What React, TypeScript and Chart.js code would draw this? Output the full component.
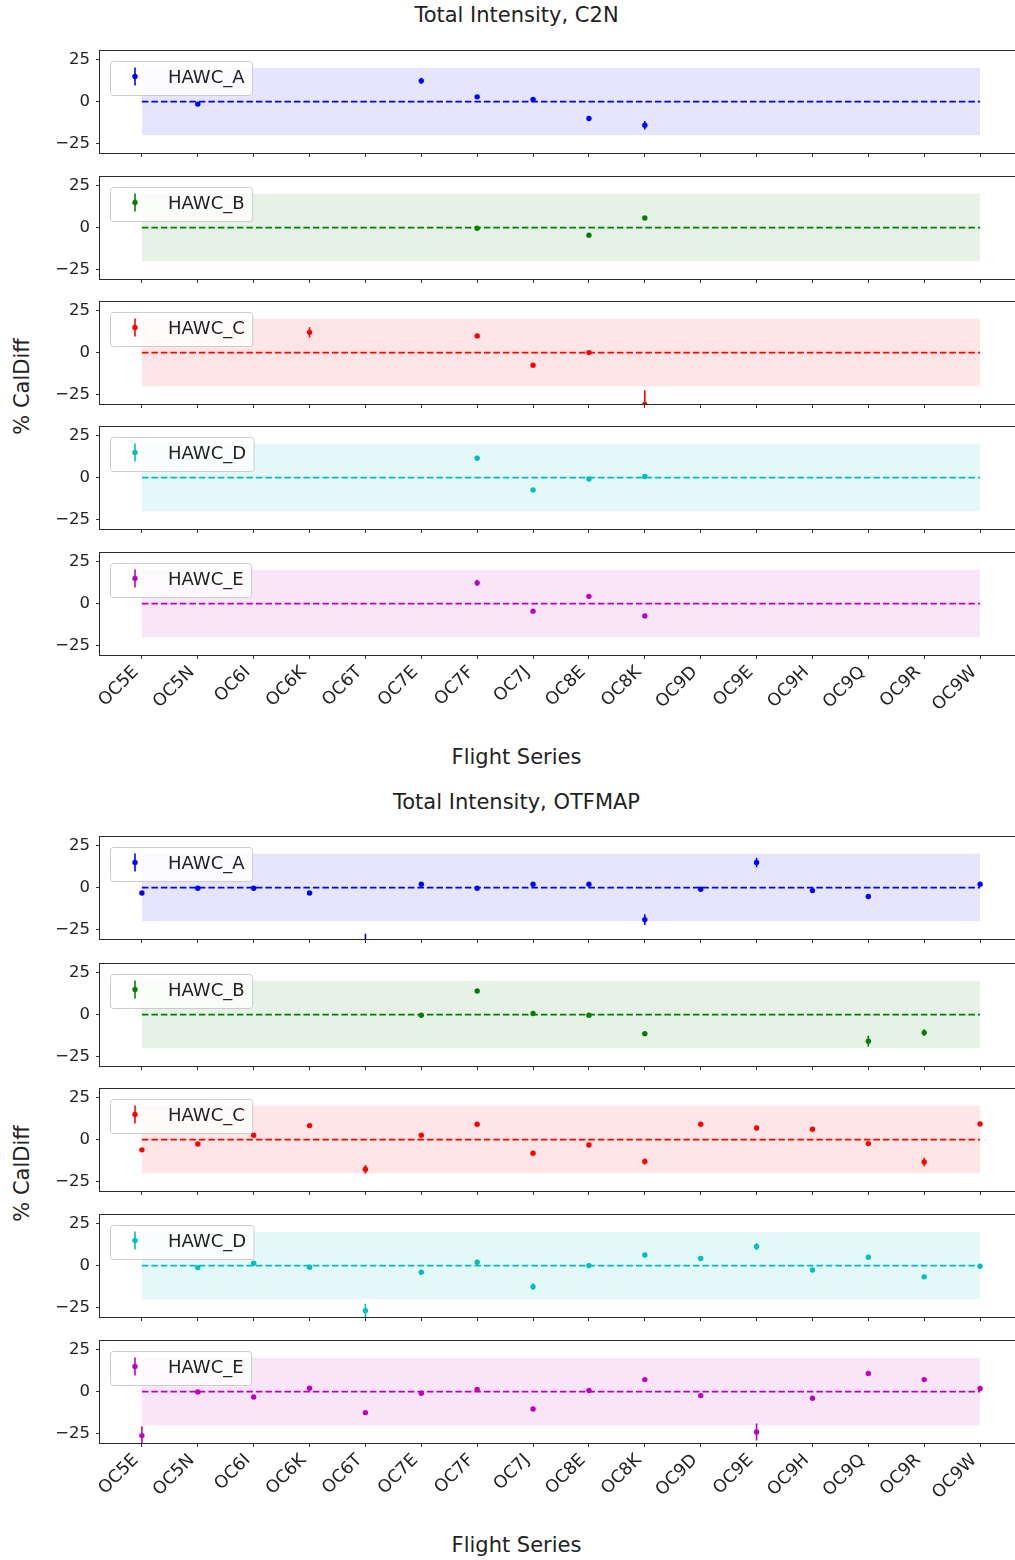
import React, { useEffect, useRef } from 'react';
import { Chart, registerables } from 'chart.js';

Chart.register(...registerables);

// ---------------- data ----------------
const categories = ['OC5E', 'OC5N', 'OC6I', 'OC6K', 'OC6T', 'OC7E', 'OC7F', 'OC7J', 'OC8E', 'OC8K', 'OC9D', 'OC9E', 'OC9H', 'OC9Q', 'OC9R', 'OC9W'];
const yTickValues = [-25, 0, 25];
const instruments = ['HAWC_A', 'HAWC_B', 'HAWC_C', 'HAWC_D', 'HAWC_E'];
const seriesColors = ['#0000ff', '#008000', '#ff0000', '#00bfbf', '#bf00bf'];
const bandColors = ['rgba(0,0,255,0.1)', 'rgba(0,128,0,0.1)', 'rgba(255,0,0,0.1)', 'rgba(0,191,191,0.1)', 'rgba(191,0,191,0.1)'];
const groupTitles = ['Total Intensity, C2N', 'Total Intensity, OTFMAP'];
const xAxisLabel = 'Flight Series';
const yAxisLabel = '% CalDiff';
const bandLimit = 20;

const N = null;
// C2N
const c2nA = [N, -1.5, N, N, N, 12.3, 2.8, 1.2, -10, -14, N, N, N, N, N, N];
const c2nAErr = [N, 0.8, N, N, N, 1.8, 1, 1, 1.5, 2.5, N, N, N, N, N, N];
const c2nB = [N, N, N, N, N, N, -0.4, N, -4.5, 5.7, N, N, N, N, N, N];
const c2nBErr = [N, N, N, N, N, N, 0.8, N, 0.8, 1.2, N, N, N, N, N, N];
const c2nC = [N, N, N, 12, N, N, 9.9, -7.5, 0, -30.8, N, N, N, N, N, N];
const c2nCErr = [N, N, N, 3, N, N, 1.2, 1, 0.8, 8.5, N, N, N, N, N, N];
const c2nD = [N, N, N, N, N, N, 11.5, -7.3, -0.8, 0.6, N, N, N, N, N, N];
const c2nDErr = [N, N, N, N, N, N, 1.2, 0.8, 0.8, 0.8, N, N, N, N, N, N];
const c2nE = [N, N, N, N, N, N, 12.3, -4.5, 4.3, -7.3, N, N, N, N, N, N];
const c2nEErr = [N, N, N, N, N, N, 1.8, 0.8, 0.8, 1.2, N, N, N, N, N, N];
// OTFMAP
const otfA = [-3.2, -0.4, -0.4, -3.2, -33, 2, -0.4, 2, 2, -19, -1, 14.9, -1.8, -5.3, N, 2];
const otfAErr = [1, 0.8, 0.8, 1, 5.6, 1, 0.8, 1.2, 1.2, 3.2, 0.8, 2.8, 1.2, 1, N, 1];
const otfB = [N, N, N, N, N, -0.4, 14, 0.6, -0.4, -11.3, N, N, N, -15.8, -10.7, N];
const otfBErr = [N, N, N, N, N, 0.8, 1, 1, 0.8, 1, N, N, N, 3.2, 2, N];
const otfC = [-6.1, -2.6, 2.6, 8.3, -17.6, 2.6, 9.1, -8.1, -3.2, -13, 9.1, 6.9, 6.1, -2.4, -13.3, 9.3];
const otfCErr = [1, 1, 1, 1, 2.5, 1, 1, 1, 1, 1.8, 1, 1, 1, 1, 2.5, 1.2];
const otfD = [N, -1.2, 1.4, -1, -26.7, -4, 2, -12.5, 0, 6.3, 4.2, 11.3, -2.6, 5, -6.7, -0.4];
const otfDErr = [N, 0.8, 1, 0.8, 4, 1, 1, 2, 0.8, 1, 1, 2, 1, 1, 1, 0.8];
const otfE = [-26.1, -0.2, -3.2, 2, -12.5, -1, 1.2, -10.3, 0.6, 7.1, -2.4, -24, -4, 10.7, 7.1, 1.8];
const otfEErr = [5.5, 0.8, 1, 1, 1.2, 0.8, 0.8, 1, 0.8, 1, 1, 5, 1, 1, 1, 1];

const groupValues = [
  [c2nA, c2nB, c2nC, c2nD, c2nE],
  [otfA, otfB, otfC, otfD, otfE],
];
const groupErrors = [
  [c2nAErr, c2nBErr, c2nCErr, c2nDErr, c2nEErr],
  [otfAErr, otfBErr, otfCErr, otfDErr, otfEErr],
];

// ---------------- layout ----------------
const FONT = '"DejaVu Sans", sans-serif';
const PLOT_LEFT = 100;
const PLOT_H = 102;
const PAD_TOP = 20;
const PAD_BOTTOM = 10;
const CANVAS_W = 1030;
const PAD_RIGHT = 8;
const GROUP_OFFSETS = [0, 787.5];
const PANEL_TOPS = [
  [51, 177, 302, 427, 553],
  [837, 964, 1089, 1215, 1341],
];

const fmtY = (v: number) => (v < 0 ? '\u2212' + Math.abs(v) : String(v));

const errorBarPlugin = {
  id: 'errorBars',
  afterDatasetsDraw(chart: any, _args: any, opts: any) {
    const { ctx, chartArea, scales } = chart;
    ctx.save();
    ctx.beginPath();
    ctx.rect(chartArea.left, chartArea.top, chartArea.right - chartArea.left, chartArea.bottom - chartArea.top);
    ctx.clip();
    ctx.strokeStyle = opts.color;
    ctx.lineWidth = 1.6;
    ctx.beginPath();
    (opts.values as (number | null)[]).forEach((v, i) => {
      if (v == null) return;
      const e = opts.errors[i] || 0;
      const x = scales.x.getPixelForValue(i);
      ctx.moveTo(x, scales.y.getPixelForValue(v - e));
      ctx.lineTo(x, scales.y.getPixelForValue(v + e));
    });
    ctx.stroke();
    ctx.restore();
  },
};

const framePlugin = {
  id: 'frame',
  afterDraw(chart: any) {
    const { ctx, chartArea } = chart;
    ctx.save();
    ctx.strokeStyle = '#2a2a2a';
    ctx.lineWidth = 1;
    ctx.strokeRect(
      Math.round(chartArea.left) - 0.5,
      Math.round(chartArea.top) - 0.5,
      Math.round(chartArea.right - chartArea.left) + 1,
      Math.round(chartArea.bottom - chartArea.top) + 1
    );
    ctx.restore();
  },
};

const legendPlugin = {
  id: 'panelLegend',
  afterDraw(chart: any, _args: any, opts: any) {
    const { ctx, chartArea } = chart;
    const L = chartArea.left;
    const T = chartArea.top;
    ctx.save();
    ctx.font = `18px ${FONT}`;
    const tw = ctx.measureText(opts.label).width;
    const x0 = L + 10.5;
    const y0 = T + 10.5;
    const w = 68 - 10.5 + tw + 8;
    const h = 34;
    const r = 3;
    ctx.beginPath();
    ctx.moveTo(x0 + r, y0);
    ctx.lineTo(x0 + w - r, y0);
    ctx.arcTo(x0 + w, y0, x0 + w, y0 + r, r);
    ctx.lineTo(x0 + w, y0 + h - r);
    ctx.arcTo(x0 + w, y0 + h, x0 + w - r, y0 + h, r);
    ctx.lineTo(x0 + r, y0 + h);
    ctx.arcTo(x0, y0 + h, x0, y0 + h - r, r);
    ctx.lineTo(x0, y0 + r);
    ctx.arcTo(x0, y0, x0 + r, y0, r);
    ctx.closePath();
    ctx.fillStyle = 'rgba(255,255,255,0.8)';
    ctx.fill();
    ctx.strokeStyle = '#cccccc';
    ctx.lineWidth = 1;
    ctx.stroke();
    // marker
    const mx = L + 35;
    const my = T + 25.5;
    ctx.strokeStyle = opts.color;
    ctx.lineWidth = 1.6;
    ctx.beginPath();
    ctx.moveTo(mx, my - 9);
    ctx.lineTo(mx, my + 9);
    ctx.stroke();
    ctx.fillStyle = opts.color;
    ctx.beginPath();
    ctx.arc(mx, my, 2.7, 0, Math.PI * 2);
    ctx.fill();
    // text
    ctx.fillStyle = '#222';
    ctx.textBaseline = 'alphabetic';
    ctx.textAlign = 'left';
    ctx.fillText(opts.label, L + 68, T + 31.5);
    ctx.restore();
  },
};

type PanelProps = {
  values: (number | null)[];
  errors: (number | null)[];
  color: string;
  band: string;
  label: string;
  top: number;
  showLabels: boolean;
};

function Panel({ values, errors, color, band, label, top, showLabels }: PanelProps) {
  const ref = useRef<HTMLCanvasElement>(null);
  const xH = showLabels ? 75 : 8;
  const canvasH = PAD_TOP + PLOT_H + xH + PAD_BOTTOM;

  useEffect(() => {
    const last = categories.length - 1;
    const points = values
      .map((v, i) => (v == null ? null : { x: i, y: v }))
      .filter((p) => p !== null) as { x: number; y: number }[];
    const chart = new Chart(ref.current as HTMLCanvasElement, {
      type: 'scatter',
      data: {
        datasets: [
          {
            type: 'line',
            data: [
              { x: 0, y: bandLimit },
              { x: last, y: bandLimit },
            ],
            fill: { value: -bandLimit },
            backgroundColor: band,
            borderColor: 'rgba(0,0,0,0)',
            borderWidth: 0,
            pointRadius: 0,
            order: 3,
          } as any,
          {
            type: 'line',
            data: [
              { x: 0, y: 0 },
              { x: last, y: 0 },
            ],
            borderColor: color,
            borderWidth: 1.6,
            borderDash: [6.5, 3],
            pointRadius: 0,
            fill: false,
            order: 2,
          } as any,
          {
            type: 'scatter',
            data: points,
            backgroundColor: color,
            borderColor: color,
            borderWidth: 0,
            pointRadius: 2.7,
            clip: 0,
            order: 1,
          } as any,
        ],
      },
      options: {
        responsive: false,
        animation: false,
        events: [],
        layout: { padding: { top: PAD_TOP, right: PAD_RIGHT, bottom: PAD_BOTTOM, left: 0 } },
        plugins: {
          legend: { display: false },
          tooltip: { enabled: false },
          errorBars: { values, errors, color },
          panelLegend: { label, color },
        } as any,
        scales: {
          x: {
            type: 'linear',
            min: -0.75,
            max: last + 0.75,
            afterBuildTicks: (s: any) => {
              s.ticks = categories.map((_, i) => ({ value: i }));
            },
            afterFit: (s: any) => {
              s.height = xH;
            },
            ticks: {
              display: showLabels,
              autoSkip: false,
              minRotation: 45,
              maxRotation: 45,
              padding: 3,
              labelOffset: -6,
              color: '#222',
              font: { family: FONT, size: 17.5 },
              callback: (v: any) => categories[v as number] ?? '',
            },
            grid: { drawOnChartArea: false, drawTicks: true, tickLength: 4, color: '#333', lineWidth: 1 },
            border: { display: false },
          },
          y: {
            type: 'linear',
            min: -30.5,
            max: 30,
            afterBuildTicks: (s: any) => {
              s.ticks = yTickValues.map((v) => ({ value: v }));
            },
            afterFit: (s: any) => {
              s.width = PLOT_LEFT;
            },
            ticks: {
              padding: 6,
              color: '#222',
              font: { family: FONT, size: 16.5 },
              callback: (v: any) => fmtY(v as number),
            },
            grid: { drawOnChartArea: false, drawTicks: true, tickLength: 4, color: '#333', lineWidth: 1 },
            border: { display: false },
          },
        },
      } as any,
      plugins: [errorBarPlugin, framePlugin, legendPlugin],
    });
    return () => chart.destroy();
  }, []);

  return (
    <canvas
      ref={ref}
      width={CANVAS_W}
      height={canvasH}
      style={{ position: 'absolute', left: 0, top: top - PAD_TOP, width: CANVAS_W, height: canvasH }}
    />
  );
}

const textStyle: React.CSSProperties = {
  position: 'absolute',
  fontFamily: FONT,
  fontSize: 21,
  lineHeight: '21px',
  color: '#222',
  whiteSpace: 'nowrap',
  textAlign: 'center',
  width: 400,
};

export default function App() {
  return (
    <div
      style={{
        position: 'absolute',
        left: 0,
        top: 0,
        width: 1015,
        height: 1560,
        overflow: 'hidden',
        background: '#fff',
      }}
    >
      {groupTitles.map((title, g) => {
        const off = GROUP_OFFSETS[g];
        return (
          <React.Fragment key={title}>
            <div style={{ ...textStyle, left: 516.5 - 200, top: off + 22.3 - 17.8 }}>{title}</div>
            <div style={{ ...textStyle, left: 516.5 - 200, top: off + 765 - 17.8 }}>{xAxisLabel}</div>
            <div
              style={{
                ...textStyle,
                left: 22 - 200,
                top: off + 386 - 10.5,
                transform: 'rotate(-90deg)',
                transformOrigin: 'center center',
              }}
            >
              {yAxisLabel}
            </div>
            {instruments.map((inst, i) => (
              <Panel
                key={inst}
                values={groupValues[g][i]}
                errors={groupErrors[g][i]}
                color={seriesColors[i]}
                band={bandColors[i]}
                label={inst}
                top={PANEL_TOPS[g][i]}
                showLabels={i === instruments.length - 1}
              />
            ))}
          </React.Fragment>
        );
      })}
    </div>
  );
}
